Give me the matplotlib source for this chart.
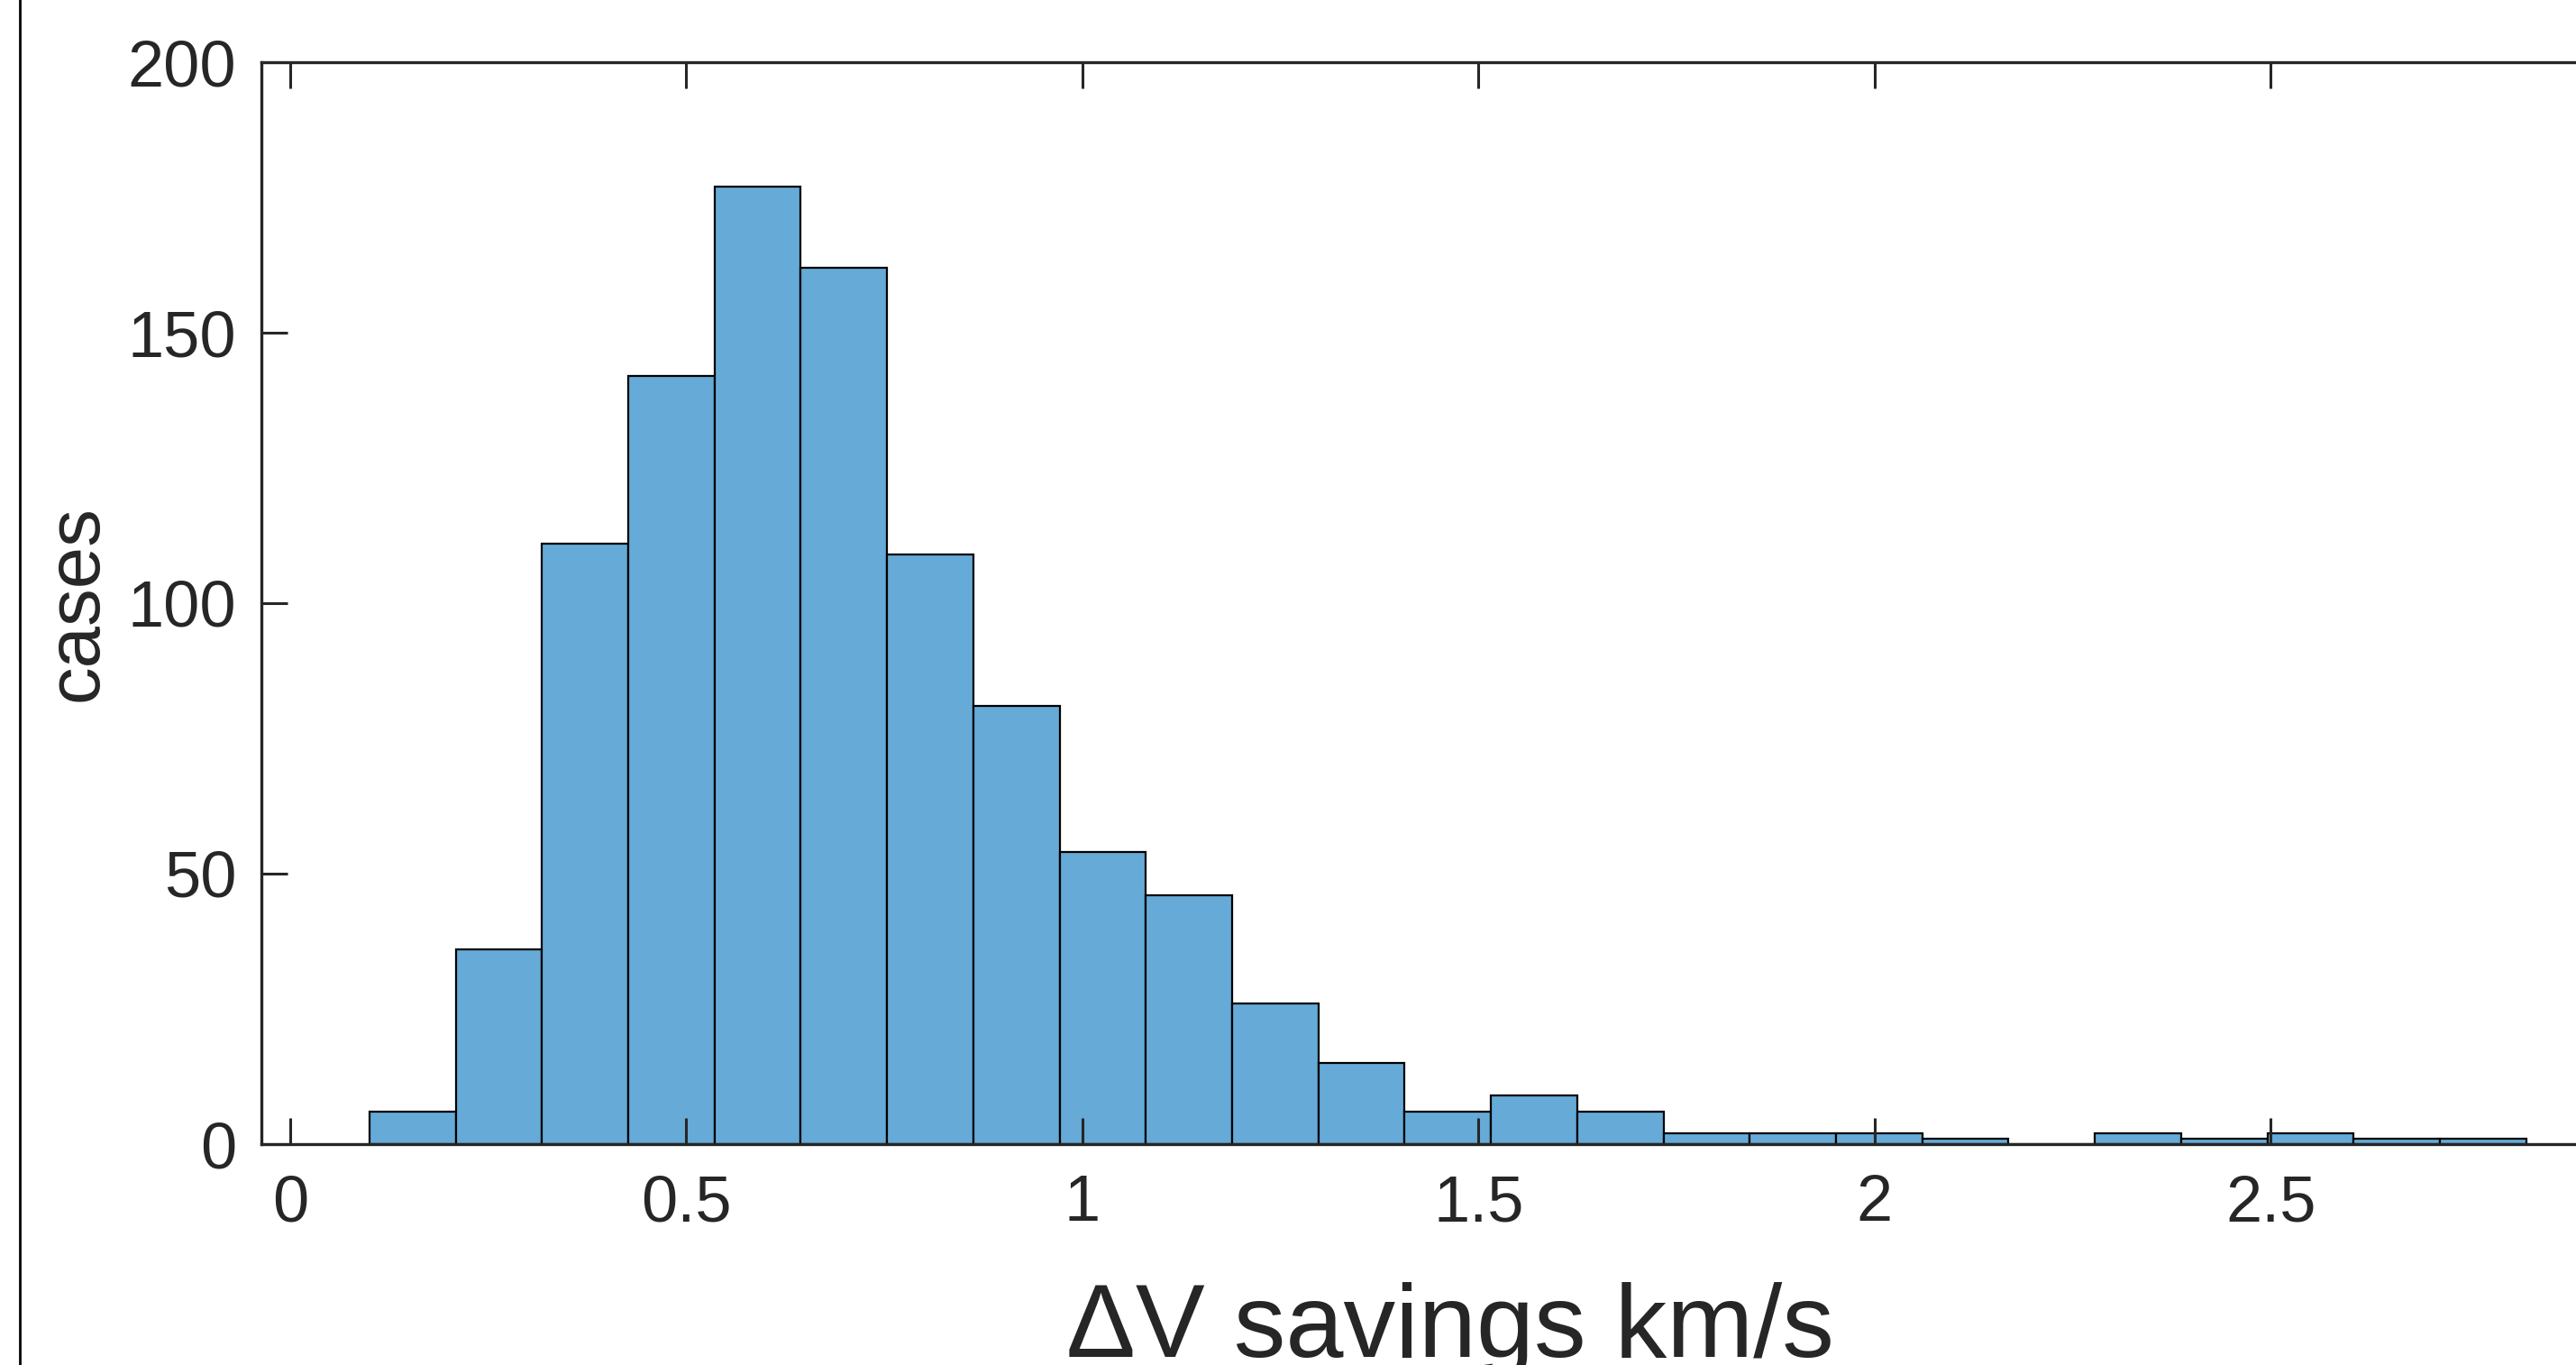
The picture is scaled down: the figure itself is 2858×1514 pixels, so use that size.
import numpy as np
import matplotlib
matplotlib.use("Agg")
import matplotlib.pyplot as plt
from matplotlib.lines import Line2D

# ---- data ----
counts = [6, 36, 111, 142, 177, 162, 109, 81, 54, 46, 26, 15, 6, 9, 6,
          2, 2, 2, 1, 0, 2, 1, 2, 1, 1]
bin_start = 0.1
bin_width = 0.1089
bin_edges = bin_start + bin_width * np.arange(len(counts) + 1)

x_ticks = [0, 0.5, 1, 1.5, 2, 2.5]
x_tick_labels = ["0", "0.5", "1", "1.5", "2", "2.5"]
y_ticks = [0, 50, 100, 150, 200]
y_tick_labels = ["0", "50", "100", "150", "200"]
x_label = "\u0394V savings km/s"
y_label = "cases"

# ---- style ----
W, H, DPI = 2858, 1514, 200
txt = "#262626"
bar_color = "#66AAD7"
plt.rcParams["font.family"] = ["Liberation Sans", "DejaVu Sans"]

fig = plt.figure(figsize=(W / DPI, H / DPI), dpi=DPI, facecolor="white")
ax_left, ax_top, ax_bottom, ax_right = 290, 69, 1269, 2928
ax = fig.add_axes([ax_left / W, 1 - ax_bottom / H,
                   (ax_right - ax_left) / W, (ax_bottom - ax_top) / H])

ax.hist(bin_edges[:-1], bins=bin_edges, weights=counts,
        color=bar_color, edgecolor="black", linewidth=0.8)

ax.set_xlim(-0.0364, 2.965)
ax.set_ylim(0, 200)
ax.set_xticks(x_ticks)
ax.set_xticklabels(x_tick_labels)
ax.set_yticks(y_ticks)
ax.set_yticklabels(y_tick_labels)

for s in ax.spines.values():
    s.set_color(txt)
    s.set_linewidth(1.2)

ax.tick_params(axis="both", direction="in", length=10.4, width=1.1,
               colors=txt, labelsize=26, top=True, right=True)
ax.tick_params(axis="x", pad=12)
ax.tick_params(axis="y", pad=10)

ax.set_xlabel(x_label, fontsize=41.5, color=txt, labelpad=19)
ax.set_ylabel(y_label, fontsize=30, color=txt, labelpad=6)

# border line on the left of the figure
fig.add_artist(Line2D([22 / W, 22 / W], [0, 1], transform=fig.transFigure,
                      color="black", linewidth=1.0))

fig.savefig("out.png", dpi=DPI, facecolor="white")
